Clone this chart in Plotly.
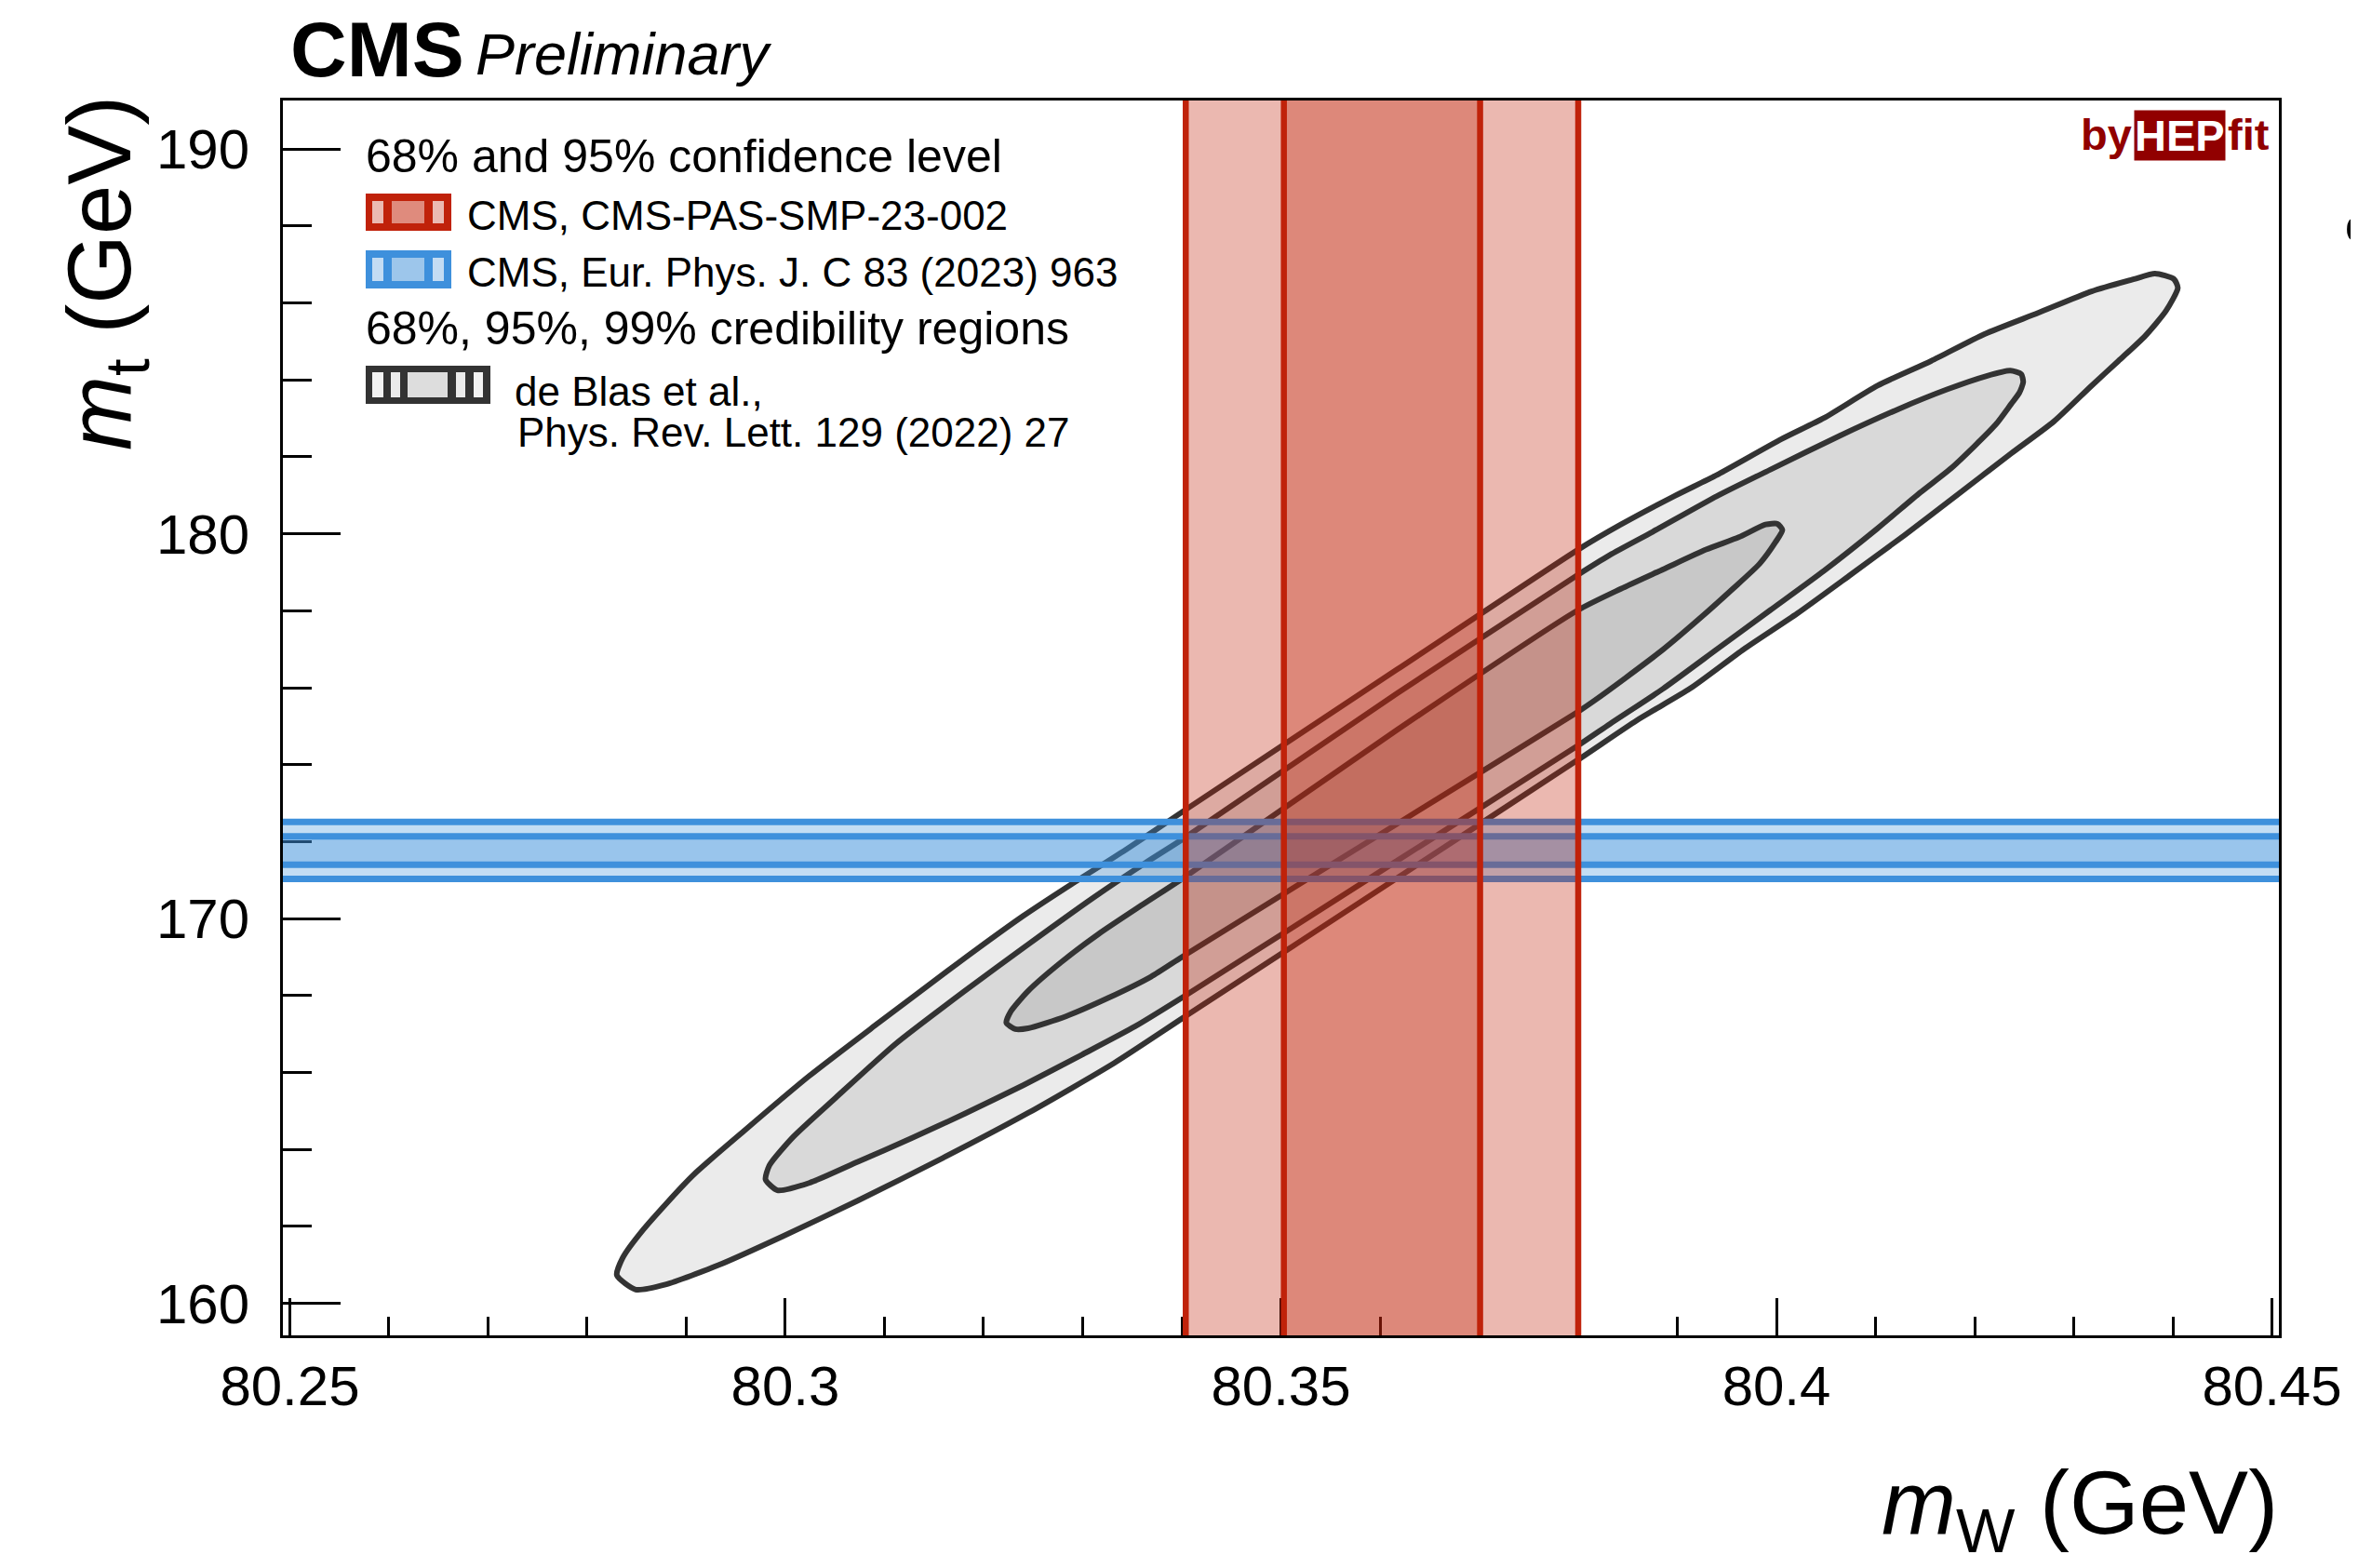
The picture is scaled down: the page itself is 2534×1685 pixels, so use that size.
import plotly.graph_objects as go

# ---------------- data ----------------
mw_tick_vals = [80.25, 80.30, 80.35, 80.40, 80.45]
mw_tick_text = ["80.25", "80.3", "80.35", "80.4", "80.45"]
mt_tick_vals = [160, 170, 180, 190]
mt_tick_text = ["160", "170", "180", "190"]

mw_range = [80.2493, 80.4507]
mt_range = [159.17, 191.26]

# CMS m_W measurement (CMS-PAS-SMP-23-002): 68% and 95% CL edges
cms_mw_95 = [80.3404, 80.3800]
cms_mw_68 = [80.3503, 80.3701]
# CMS m_t measurement (EPJC 83 (2023) 963): 68% and 95% CL edges
cms_mt_95 = [171.03, 172.51]
cms_mt_68 = [171.40, 172.14]

# de Blas et al. credibility contours (99%, 95%, 68%), vertices
c99_mw = [80.2830, 80.2836, 80.2857, 80.2906, 80.2960, 80.3024, 80.3094, 80.3175, 80.3240, 80.3289,
          80.3343, 80.3402, 80.3617, 80.3800, 80.3843, 80.3897, 80.3940, 80.4005, 80.4048, 80.4102,
          80.4156, 80.4210, 80.4264, 80.4318, 80.4361, 80.4382, 80.4401, 80.4405, 80.4393, 80.4372,
          80.4345, 80.4318, 80.4280, 80.4237, 80.4183, 80.4129, 80.4075, 80.4021, 80.3967, 80.3913,
          80.3859, 80.3800, 80.3617, 80.3403, 80.3332, 80.3245, 80.3159, 80.3073, 80.2997, 80.2933,
          80.2879, 80.2849, 80.2830]
c99_mt = [160.73, 161.19, 161.93, 163.31, 164.52, 165.91, 167.29, 168.86, 170.07, 170.90,
          171.78, 172.80, 176.47, 179.59, 180.24, 180.98, 181.53, 182.46, 183.01, 183.85,
          184.49, 185.19, 185.74, 186.30, 186.62, 186.76, 186.62, 186.39, 185.79, 185.14,
          184.49, 183.85, 182.92, 182.09, 181.02, 179.96, 178.94, 177.93, 177.00, 175.98,
          175.15, 174.13, 171.05, 167.45, 166.25, 164.95, 163.78, 162.67, 161.74, 161.00,
          160.49, 160.36, 160.73]

c95_mw = [80.2980, 80.2984, 80.3008, 80.3051, 80.3111, 80.3181, 80.3245, 80.3310, 80.3364, 80.3403,
          80.3617, 80.3800, 80.3832, 80.3875, 80.3940, 80.3994, 80.4064, 80.4123, 80.4172, 80.4212,
          80.4236, 80.4247, 80.4249, 80.4245, 80.4237, 80.4221, 80.4177, 80.4145, 80.4102, 80.4048,
          80.3994, 80.3940, 80.3886, 80.3832, 80.3800, 80.3617, 80.3403, 80.3353, 80.3299, 80.3240,
          80.3181, 80.3127, 80.3073, 80.3024, 80.2992, 80.2980]
c95_mt = [163.22, 163.59, 164.33, 165.35, 166.74, 168.12, 169.33, 170.53, 171.46, 172.10,
          175.85, 178.94, 179.45, 180.05, 180.98, 181.67, 182.55, 183.24, 183.75, 184.10,
          184.24, 184.15, 183.94, 183.66, 183.38, 182.83, 181.72, 181.07, 180.14, 179.04,
          178.02, 177.00, 175.98, 175.06, 174.50, 171.50, 167.99, 167.20, 166.46, 165.67,
          164.93, 164.29, 163.68, 163.13, 162.94, 163.22]

c68_mw = [80.3223, 80.3227, 80.3245, 80.3278, 80.3316, 80.3359, 80.3403, 80.3617, 80.3800, 80.3843,
          80.3886, 80.3929, 80.3962, 80.3989, 80.4001, 80.4006, 80.3999, 80.3983, 80.3956, 80.3924,
          80.3886, 80.3848, 80.3816, 80.3800, 80.3617, 80.3403, 80.3369, 80.3326, 80.3283, 80.3245,
          80.3232, 80.3223]
c68_mt = [167.29, 167.57, 168.12, 168.86, 169.60, 170.34, 171.08, 174.90, 178.02, 178.57,
          179.08, 179.59, 179.91, 180.24, 180.26, 180.10, 179.78, 179.22, 178.57, 177.83,
          177.00, 176.26, 175.66, 175.38, 172.46, 169.05, 168.49, 167.94, 167.46, 167.15,
          167.13, 167.29]

legend_header_cl = "68% and 95% confidence level"
legend_red = "CMS, CMS-PAS-SMP-23-002"
legend_blue = "CMS, Eur. Phys. J. C 83 (2023) 963"
legend_header_cr = "68%, 95%, 99% credibility regions"
legend_grey_1 = "de Blas et al.,"
legend_grey_2 = "Phys. Rev. Lett. 129 (2022) 27"

# ---------------- style ----------------
PAGE_W, PAGE_H = 2534, 1685
OFF = 8                       # default body margin of the html page
L, R, T, B = 304, 2449, 108, 1435   # plot-area edges in page pixels
FONT = "Liberation Sans, Arial, Helvetica, sans-serif"

RED = "rgb(192,34,10)"
RED_FILL = "rgba(192,34,10,0.32)"
BLUE = "rgb(62,144,220)"
BLUE_FILL = "rgba(62,144,220,0.31)"
GREY_LINE = "#333333"
DARKRED = "#910000"


def px(X):
    return (X - L) / (R - L)


def py(Y):
    return (B - Y) / (B - T)


fig = go.Figure()

for xs, ys, fc in [(c99_mw, c99_mt, "#EBEBEB"), (c95_mw, c95_mt, "#D9D9D9"), (c68_mw, c68_mt, "#C8C8C8")]:
    fig.add_trace(go.Scatter(x=xs, y=ys, mode="lines", fill="toself", fillcolor=fc,
                             line=dict(color=GREY_LINE, width=6, shape="spline", smoothing=0.6),
                             hoverinfo="skip", showlegend=False))

shapes = []
# blue horizontal band (m_t)
for lo, hi in [cms_mt_95, cms_mt_68]:
    shapes.append(dict(type="rect", xref="x domain", yref="y", x0=0, x1=1, y0=lo, y1=hi,
                       fillcolor=BLUE_FILL, line=dict(width=0), layer="above"))
for v in cms_mt_95 + cms_mt_68:
    shapes.append(dict(type="line", xref="x domain", yref="y", x0=0, x1=1, y0=v, y1=v,
                       line=dict(color=BLUE, width=7), layer="above"))
# red vertical band (m_W)
for lo, hi in [cms_mw_95, cms_mw_68]:
    shapes.append(dict(type="rect", xref="x", yref="y domain", x0=lo, x1=hi, y0=0, y1=1,
                       fillcolor=RED_FILL, line=dict(width=0), layer="above"))
for v in cms_mw_95 + cms_mw_68:
    shapes.append(dict(type="line", xref="x", yref="y domain", x0=v, x1=v, y0=0, y1=1,
                       line=dict(color=RED, width=6.5), layer="above"))


def prect(x0, y0, x1, y1, color):
    shapes.append(dict(type="rect", xref="paper", yref="paper", x0=px(x0), x1=px(x1),
                       y0=py(y1), y1=py(y0), fillcolor=color, line=dict(width=0), layer="above"))


# legend glyphs
prect(393, 208, 485, 248, RED)
prect(400, 216, 412, 240, "#EBBAB2")
prect(421, 216, 456, 240, "#DF8B7D")
prect(465, 216, 477, 240, "#EBBAB2")

prect(393, 269, 485, 310, BLUE)
prect(400, 277, 412, 302, "#C4DCF3")
prect(421, 277, 456, 302, "#9DC6EB")
prect(465, 277, 477, 302, "#C4DCF3")

prect(393, 393, 527, 434, GREY_LINE)
prect(400, 400, 412, 427, "#F2F2F2")
prect(420, 400, 430, 427, "#EBEBEB")
prect(438, 400, 481, 427, "#DDDDDD")
prect(490, 400, 500, 427, "#EBEBEB")
prect(509, 400, 519, 427, "#F2F2F2")

annotations = []


def ann(text, X, Y, size, xanchor="left", color="black", **kw):
    d = dict(text=text, xref="paper", yref="paper", x=px(X), y=py(Y), xanchor=xanchor,
             yanchor="middle", showarrow=False, font=dict(family=FONT, size=size, color=color),
             borderpad=0)
    d.update(kw)
    annotations.append(d)


ann("<b>CMS</b>", 311, 53, 84)
ann("<i>Preliminary</i>", 510, 58, 63)

ann(legend_header_cl, 392, 168, 50)
ann(legend_red, 501, 232, 44)
ann(legend_blue, 501, 292, 44)
ann(legend_header_cr, 392, 353, 50)
ann(legend_grey_1, 552, 420, 44)
ann(legend_grey_2, 555, 464, 44)

# byHEPfit logo
ann("<b>by</b>", 2292, 144, 47, xanchor="right", color=DARKRED)
ann("<b>HEP</b>", 2342, 145, 47, xanchor="center", color="white", bgcolor=DARKRED)
ann("<b>fit</b>", 2393, 144, 47, xanchor="left", color=DARKRED)

# axis titles
ann("<i>m</i><sub>t</sub> (GeV)", 113, 294, 96, xanchor="center", textangle=-90)
ann("<i>m</i><sub>W</sub> (GeV)", 2449, 1621, 96, xanchor="right")

# clipped glyph at the right page edge
ann("o", 2519, 243, 50)

fig.update_layout(
    width=PAGE_W - OFF, height=PAGE_H - OFF,
    margin=dict(l=L - OFF, r=PAGE_W - R, t=T - OFF, b=PAGE_H - B, pad=0),
    paper_bgcolor="white", plot_bgcolor="white",
    font=dict(family=FONT, color="black"),
    showlegend=False,
    shapes=shapes,
    annotations=annotations,
    xaxis=dict(range=mw_range, showgrid=False, zeroline=False, showline=True, linecolor="black",
               linewidth=3, mirror=True, ticks="inside", ticklen=40, tickwidth=3, tickcolor="black",
               tickvals=mw_tick_vals, ticktext=mw_tick_text, tickfont=dict(size=60, family=FONT),
               minor=dict(ticks="inside", ticklen=20, tickwidth=3, tickcolor="black",
                          dtick=0.01, tick0=80.25, showgrid=False)),
    yaxis=dict(range=mt_range, showgrid=False, zeroline=False, showline=True, linecolor="black",
               linewidth=3, mirror=True, ticks="inside", ticklen=62, tickwidth=3, tickcolor="black",
               tickvals=mt_tick_vals, ticktext=mt_tick_text, tickfont=dict(size=60, family=FONT),
               ticklabelstandoff=21,
               minor=dict(ticks="inside", ticklen=31, tickwidth=3, tickcolor="black",
                          dtick=2, tick0=160, showgrid=False)),
)

fig.write_html("out.html")
